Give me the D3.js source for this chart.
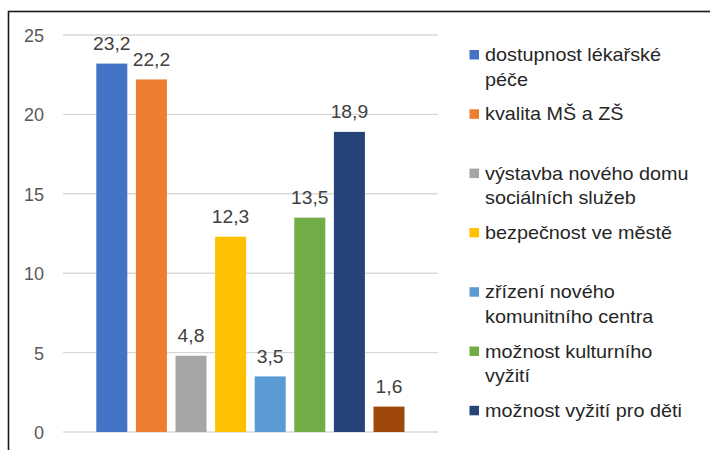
<!DOCTYPE html>
<html>
<head>
<meta charset="utf-8">
<script src="https://cdn.jsdelivr.net/npm/d3@7/dist/d3.min.js"></script>
<style>
  html, body { margin: 0; padding: 0; background: #fff; }
  svg { display: block; font-family: "Liberation Sans", Arial, sans-serif; }
</style>
</head>
<body>
<svg id="chart" width="710" height="450"></svg>
<script>
// ---- data ----
const seriesNames = [
  "dostupnost lékařské péče",
  "kvalita MŠ a ZŠ",
  "výstavba nového domu sociálních služeb",
  "bezpečnost ve městě",
  "zřízení nového komunitního centra",
  "možnost kulturního vyžití",
  "možnost vyžití pro děti",
  "jiné"
];
// legend text wrapped as shown in the picture
const legendLines = [
  ["dostupnost lékařské", "péče"],
  ["kvalita MŠ a ZŠ"],
  ["výstavba nového domu", "sociálních služeb"],
  ["bezpečnost ve městě"],
  ["zřízení nového", "komunitního centra"],
  ["možnost kulturního", "vyžití"],
  ["možnost vyžití pro děti"],
  ["jiné"]
];
const values = [23.2, 22.2, 4.8, 12.3, 3.5, 13.5, 18.9, 1.6];
const colors = ["#4472C4", "#ED7D31", "#A5A5A5", "#FFC000", "#5B9BD5", "#70AD47", "#264478", "#9E480E"];
const yTicks = [0, 5, 10, 15, 20, 25];

// ---- layout ----
const W = 710, H = 450;
const svg = d3.select("#chart");

// outer frame (cut by the picture on the right and bottom)
svg.append("rect")
  .attr("x", 8.5).attr("y", 11.5)
  .attr("width", 760).attr("height", 500)
  .attr("fill", "none").attr("stroke", "#1a1a1a").attr("stroke-width", 1.6);

const plot = { left: 63, right: 438, top: 35, bottom: 432 };

const y = d3.scaleLinear().domain([0, 25]).range([plot.bottom, plot.top]);
const x = d3.scaleBand().domain(seriesNames).range([96.3, 404.5]).paddingInner(0.217).paddingOuter(0);

// gridlines
svg.append("g").selectAll("line").data(yTicks).join("line")
  .attr("x1", plot.left).attr("x2", plot.right)
  .attr("y1", d => y(d)).attr("y2", d => y(d))
  .attr("stroke", "#d9d9d9").attr("stroke-width", 1.4);

// y axis labels
const yAxis = d3.axisLeft(y).tickValues(yTicks).tickSize(0).tickPadding(0).tickFormat(d3.format("d"));
const ag = svg.append("g").attr("transform", "translate(44,0)").call(yAxis);
ag.select(".domain").remove();
ag.selectAll(".tick text")
  .attr("x", 0).attr("dy", "0.36em")
  .attr("font-family", "Liberation Sans, Arial, sans-serif")
  .attr("font-size", 18).attr("fill", "#595959");

// bars
svg.append("g").selectAll("rect").data(values).join("rect")
  .attr("x", (d, i) => x(seriesNames[i]))
  .attr("width", x.bandwidth())
  .attr("y", d => y(d))
  .attr("height", d => y(0) - y(d))
  .attr("fill", (d, i) => colors[i]);

// data labels
const fmt = v => d3.format(".1f")(v).replace(".", ",");
svg.append("g").selectAll("text").data(values).join("text")
  .attr("transform", (d, i) => `translate(${x(seriesNames[i]) + x.bandwidth() / 2},${y(d) - 13.5}) scale(1.07,1)`)
  .attr("text-anchor", "middle")
  .style("font-size", "18px")
  .attr("fill", "#404040")
  .text(d => fmt(d));

// legend
const legStep = 59.3, legY0 = 61, lineH = 24.5;
const legItems = legendLines.map((lines, i) => ({ lines, i, base: legY0 + i * legStep }))
  .filter(d => d.base < H);
const lg = svg.append("g").selectAll("g").data(legItems).join("g");
lg.append("rect")
  .attr("x", 469.5).attr("y", d => d.base - 11)
  .attr("width", 9.5).attr("height", 9.5)
  .attr("fill", d => colors[d.i]);
lg.each(function(d) {
  const g = d3.select(this);
  d.lines.forEach((t, k) => {
    g.append("text")
      .attr("transform", `translate(485,${d.base + k * lineH}) scale(1.1,1)`)
      .style("font-size", "18px")
      .attr("fill", "#262626")
      .text(t);
  });
});
</script>
</body>
</html>
